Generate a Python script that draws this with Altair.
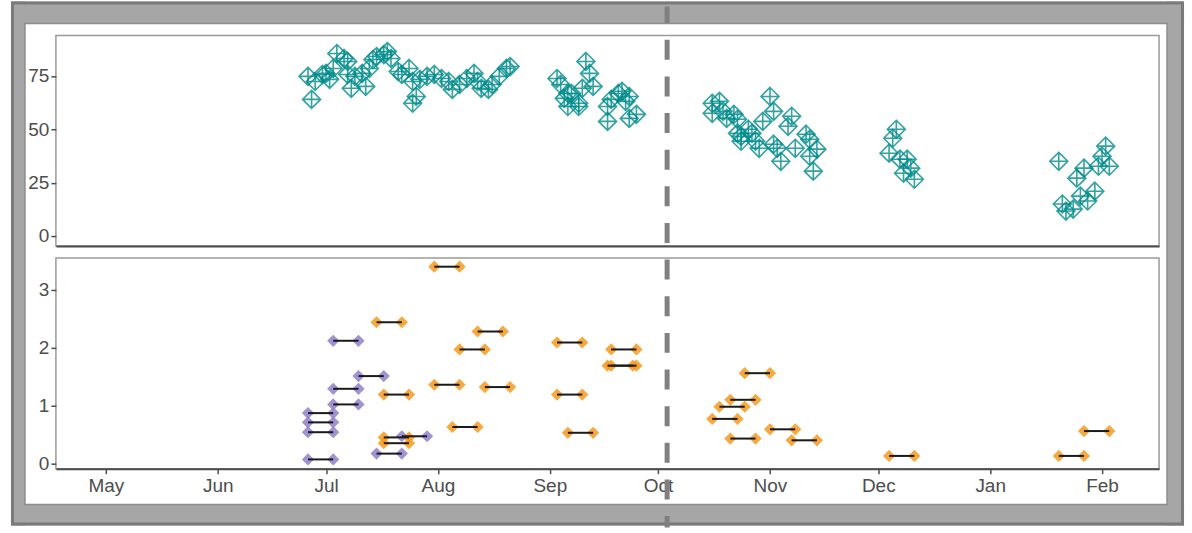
import altair as alt
import pandas as pd

# ---------------- data ----------------
top_dates = [
    "2020-06-26", "2020-06-27", "2020-06-28", "2020-06-30", "2020-07-01", "2020-07-02",
    "2020-07-03", "2020-07-04", "2020-07-06", "2020-07-07", "2020-07-07", "2020-07-08",
    "2020-07-09", "2020-07-11", "2020-07-12", "2020-07-13", "2020-07-14", "2020-07-15",
    "2020-07-17", "2020-07-18", "2020-07-19", "2020-07-21", "2020-07-22", "2020-07-24",
    "2020-07-25", "2020-07-25", "2020-07-26", "2020-07-27", "2020-07-29", "2020-07-31",
    "2020-08-02", "2020-08-04", "2020-08-05", "2020-08-07", "2020-08-09", "2020-08-11",
    "2020-08-12", "2020-08-13", "2020-08-15", "2020-08-16", "2020-08-18", "2020-08-20",
    "2020-08-21",
    "2020-09-03", "2020-09-04", "2020-09-05", "2020-09-06", "2020-09-07", "2020-09-06",
    "2020-09-09", "2020-09-09", "2020-09-10", "2020-09-11", "2020-09-12", "2020-09-13",
    "2020-09-17", "2020-09-17", "2020-09-18", "2020-09-20", "2020-09-21", "2020-09-22",
    "2020-09-23", "2020-09-23", "2020-09-25",
    "2020-10-16", "2020-10-18", "2020-10-16", "2020-10-19", "2020-10-20", "2020-10-22",
    "2020-10-23", "2020-10-23", "2020-10-24", "2020-10-26", "2020-10-27", "2020-10-24",
    "2020-10-28", "2020-10-29", "2020-11-01", "2020-11-02", "2020-10-30", "2020-11-02",
    "2020-11-03", "2020-11-04", "2020-11-07", "2020-11-06", "2020-11-08", "2020-11-11",
    "2020-11-12", "2020-11-12", "2020-11-14", "2020-11-13",
    "2020-12-06", "2020-12-05", "2020-12-04", "2020-12-07", "2020-12-09", "2020-12-10",
    "2020-12-08", "2020-12-11",
    "2021-01-20", "2021-01-27", "2021-01-25", "2021-01-21", "2021-01-22", "2021-01-24",
    "2021-01-26", "2021-01-28", "2021-01-30", "2021-01-31", "2021-02-01", "2021-02-02",
    "2021-02-03",
]
top_values = [
    74.8, 64.0, 72.4, 75.7, 76.2, 73.4,
    78.5, 85.5, 83.2, 81.8, 75.7, 69.2,
    74.8, 76.2, 70.1, 78.5, 82.7, 84.1,
    85.0, 86.4, 83.2, 77.1, 75.7, 78.5,
    72.4, 62.2, 65.4, 73.4, 74.8, 75.7,
    73.8, 72.4, 68.7, 71.0, 73.8, 76.2,
    72.4, 69.2, 68.7, 71.0, 74.8, 78.5,
    79.4,
    73.8, 71.0, 64.5, 66.8, 66.8, 60.7,
    62.2, 60.7, 69.2, 81.8, 76.2, 70.1,
    53.7, 60.7, 64.0, 66.8, 67.8, 63.1,
    65.4, 55.1, 57.0,
    62.2, 63.1, 57.5, 58.4, 55.1, 57.0,
    54.7, 48.1, 46.7, 50.0, 48.1, 44.4,
    44.4, 41.1, 65.4, 58.4, 53.7, 43.0,
    41.1, 35.0, 56.1, 51.4, 41.1, 47.7,
    45.3, 37.4, 40.7, 30.4,
    50.0, 45.8, 38.8, 36.0, 36.0, 31.8,
    29.4, 26.6,
    35.0, 31.8, 27.1, 15.0, 11.7, 12.6,
    18.7, 16.4, 21.0, 32.7, 37.4, 42.1,
    32.7,
]

seg_group = ["A"] * 10 + ["B"] * 26
seg_start = [
    "2020-07-03", "2020-07-10", "2020-07-03", "2020-07-03", "2020-06-26", "2020-06-26",
    "2020-06-26", "2020-06-26", "2020-07-15", "2020-07-22",
    "2020-07-31", "2020-07-15", "2020-08-12", "2020-09-03", "2020-08-07", "2020-09-18",
    "2020-09-17", "2020-09-18", "2020-07-31", "2020-08-14", "2020-07-17", "2020-09-03",
    "2020-08-05", "2020-09-06", "2020-07-17", "2020-07-17",
    "2020-10-25", "2020-10-21", "2020-10-18", "2020-10-16", "2020-11-01", "2020-10-21",
    "2020-11-07", "2020-12-04", "2021-01-20", "2021-01-27",
]
seg_end = [
    "2020-07-10", "2020-07-17", "2020-07-10", "2020-07-10", "2020-07-03", "2020-07-03",
    "2020-07-03", "2020-07-03", "2020-07-22", "2020-07-29",
    "2020-08-07", "2020-07-22", "2020-08-19", "2020-09-10", "2020-08-14", "2020-09-25",
    "2020-09-24", "2020-09-25", "2020-08-07", "2020-08-21", "2020-07-24", "2020-09-10",
    "2020-08-12", "2020-09-13", "2020-07-24", "2020-07-24",
    "2020-11-01", "2020-10-28", "2020-10-25", "2020-10-23", "2020-11-08", "2020-10-28",
    "2020-11-14", "2020-12-11", "2021-01-27", "2021-02-03",
]
seg_value = [
    2.12, 1.51, 1.29, 1.02, 0.87, 0.71,
    0.54, 0.07, 0.17, 0.47,
    3.40, 2.44, 2.28, 2.09, 1.97, 1.97,
    1.69, 1.69, 1.36, 1.32, 1.19, 1.19,
    0.63, 0.53, 0.45, 0.35,
    1.56, 1.10, 0.98, 0.77, 0.59, 0.43,
    0.40, 0.13, 0.13, 0.56,
]

cutoff_date = ["2020-10-03T12:00:00"]
month_ticks = [(2020, 5), (2020, 6), (2020, 7), (2020, 8), (2020, 9), (2020, 10),
               (2020, 11), (2020, 12), (2021, 1), (2021, 2)]
top_ticks = [0, 25, 50, 75]
bottom_ticks = [0, 1, 2, 3]

# ---------------- styling ----------------
W, H = 1105, 211
FONT = "Liberation Sans"
TEAL = "#008b8b"
PURPLE = "#8f80c8"
ORANGE = "#f39a1e"
AXIS_GREY = "#4d4d4d"
DIAMOND_PLUS = "M0,-1L1,0L0,1L-1,0Z M-1,0L1,0 M0,-1L0,1"

top_df = pd.DataFrame({"date": pd.to_datetime(top_dates), "value": top_values})
seg_df = pd.DataFrame({
    "group": seg_group,
    "start": pd.to_datetime(seg_start),
    "end": pd.to_datetime(seg_end),
    "value": seg_value,
})
cut_df = pd.DataFrame({"date": pd.to_datetime(cutoff_date)})
deco = pd.DataFrame({"k": [0]})

xscale = alt.Scale(
    domain=[alt.DateTime(year=2020, month=4, date=17, hours=4),
            alt.DateTime(year=2021, month=2, date=16, hours=19)],
    nice=False,
)
tick_vals = [alt.DateTime(year=y, month=m, date=1) for y, m in month_ticks]

top_x_axis = alt.Axis(title=None, labels=False, ticks=False, domain=True,
                      domainColor=AXIS_GREY, domainWidth=2, grid=False, values=tick_vals)
bottom_x_axis = alt.Axis(title=None, format="%b", values=tick_vals, domain=True,
                         domainColor=AXIS_GREY, domainWidth=2, ticks=True,
                         labelPadding=3, grid=False)
top_y = alt.Y("value:Q", scale=alt.Scale(domain=[-4.7, 94], nice=False, zero=False),
              axis=alt.Axis(title=None, values=top_ticks))
bottom_yscale = alt.Scale(domain=[-0.09, 3.55], nice=False, zero=False)
bottom_y_axis = alt.Axis(title=None, values=bottom_ticks)


def rect(x1, x2, y1, y2, **kw):
    return alt.Chart(deco).mark_rect(**kw).encode(
        x=alt.value(x1), x2=alt.value(x2), y=alt.value(y1), y2=alt.value(y2))


# decorations (relative to top plot origin); page frame
bounds_rect = rect(-55, 1137, -34, 499, fill="white", opacity=0)
band_top = rect(-45, 1130, -34, -12, fill="#a6a6a6")
band_bottom = rect(-45, 1130, 470, 491, fill="#a6a6a6")
band_left = rect(-45, -31, -34, 491, fill="#a6a6a6")
band_right = rect(1113, 1130, -34, 491, fill="#a6a6a6")
outer_line = rect(-43.5, 1128.5, -32.5, 489.5, filled=False, stroke="#7a7a7a", strokeWidth=3)
inner_line = rect(-31, 1113, -12, 470, filled=False, stroke="#8c8c8c", strokeWidth=1.5)

points = alt.Chart(top_df).mark_point(
    shape=DIAMOND_PLUS, filled=False, size=324, strokeWidth=1.6,
    color=TEAL, opacity=0.8,
).encode(
    x=alt.X("date:T", scale=xscale, axis=top_x_axis),
    y=top_y,
)

top = alt.layer(bounds_rect, band_top, band_bottom, band_left, band_right,
                outer_line, inner_line, points).properties(width=W, height=H)

color = alt.Color("group:N", scale=alt.Scale(domain=["A", "B"], range=[PURPLE, ORANGE]),
                  legend=None)

start_pts = alt.Chart(seg_df).mark_point(shape="diamond", filled=True, size=150, opacity=0.85).encode(
    x=alt.X("start:T", scale=xscale, axis=bottom_x_axis),
    y=alt.Y("value:Q", scale=bottom_yscale, axis=bottom_y_axis),
    color=color,
)
end_pts = alt.Chart(seg_df).mark_point(shape="diamond", filled=True, size=150, opacity=0.85).encode(
    x=alt.X("end:T", scale=xscale, axis=bottom_x_axis),
    y=alt.Y("value:Q", scale=bottom_yscale, axis=bottom_y_axis),
    color=color,
)
segs = alt.Chart(seg_df).mark_rule(color="#1a1a1a", strokeWidth=2).encode(
    x=alt.X("start:T", scale=xscale, axis=bottom_x_axis),
    x2="end:T",
    y=alt.Y("value:Q", scale=bottom_yscale, axis=bottom_y_axis),
)
# vertical dashed cut-off line spanning the whole page (relative to bottom plot origin)
cutoff = alt.Chart(cut_df).mark_rule(color="#808080", strokeWidth=5, strokeDash=[20, 16.7],
                                     strokeDashOffset=3.3).encode(
    x=alt.X("date:T", scale=xscale, axis=bottom_x_axis),
    y=alt.value(-252),
    y2=alt.value(270),
)

bottom = alt.layer(start_pts, end_pts, segs, cutoff).properties(width=W, height=H)

chart = alt.vconcat(top, bottom, spacing=12, bounds="flush", padding=0,
                    background="white").configure_axis(
    labelFont=FONT, labelFontSize=19, labelColor=AXIS_GREY,
    tickColor=AXIS_GREY, tickSize=5, tickWidth=1.5, labelPadding=2,
    grid=False, domain=False,
).configure_view(stroke="#9a9a9a", strokeWidth=1.5)

chart.save("out.html", embed_options={"renderer": "svg", "actions": False})
